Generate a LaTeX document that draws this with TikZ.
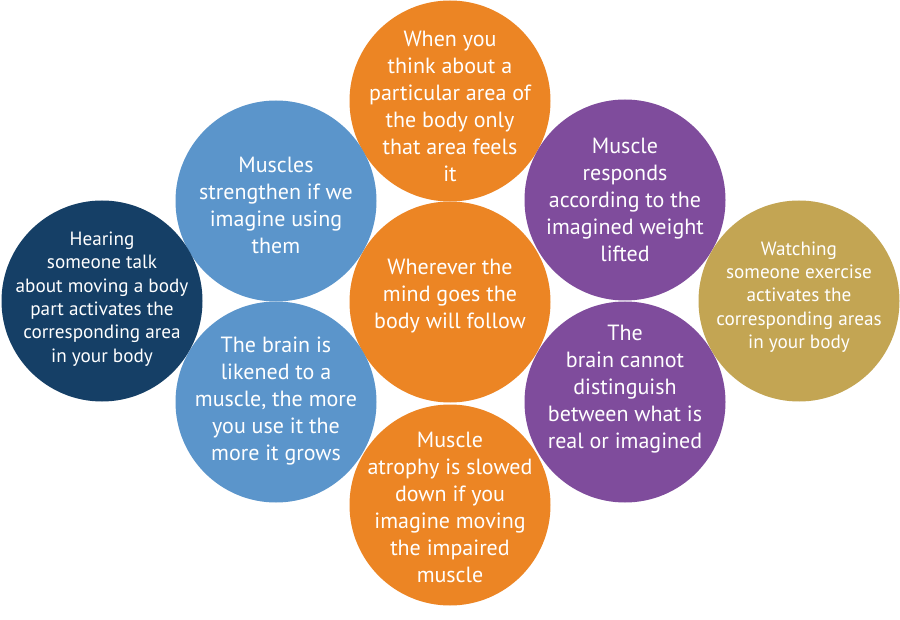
\documentclass[tikz,border=0pt]{standalone}
\usepackage{fontspec}
\setmainfont{PT Sans}
\definecolor{corange}{HTML}{EC8524}
\definecolor{cblue}{HTML}{5B95CB}
\definecolor{cpurple}{HTML}{7F4C9C}
\definecolor{cnavy}{HTML}{153F66}
\definecolor{cgold}{HTML}{C3A553}
\begin{document}
\begin{tikzpicture}[x=1pt,y=-1pt,
  bub/.style={circle, minimum size=201pt, inner sep=0pt, fill=#1},
  bigtxt/.style={text=white, align=center, font=\fontsize{22}{27}\selectfont},
  smalltxt/.style={text=white, align=center, font=\fontsize{19.2}{23.4}\selectfont}]
\useasboundingbox (0,0) rectangle (900,620);
\fill[white] (0,0) rectangle (900,620);
\node[bub=corange] (top) at (450,101) {};
\node[bub=corange] (mid) at (450,302) {};
\node[bub=corange] (bot) at (450,505) {};
\node[bub=cblue] (bu) at (276,201) {};
\node[bub=cblue] (bl) at (276,402) {};
\node[bub=cpurple] (pu) at (625,200) {};
\node[bub=cpurple] (pl) at (625,402) {};
\node[bub=cnavy] (nv) at (102,301) {};
\node[bub=cgold] (gd) at (799,301) {};

\node[bigtxt] (ttop) at (450,106) {When you\\think about a\\particular area of\\the body only\\that area feels\\it};
\node[bigtxt] (tmid) at (450,296) {Wherever the\\mind goes the\\body will follow};
\node[bigtxt] (tbot) at (450,507) {Muscle\\atrophy is slowed\\down if you\\imagine moving\\the impaired\\muscle};
\node[bigtxt] (tbu) at (276,205) {Muscles\\strengthen if we\\imagine using\\them};
\node[bigtxt] (tbl) at (276,401) {The brain is\\likened to a\\muscle, the more\\you use it the\\more it grows};
\node[bigtxt] (tpu) at (625,200) {Muscle\\responds\\according to the\\imagined weight\\lifted};
\node[bigtxt] (tpl) at (625,389) {The\\brain cannot\\distinguish\\between what is\\real or imagined};
\node[smalltxt] (tnv) at (102,299) {Hearing\\someone talk\\about moving a body\\part activates the\\corresponding area\\in your body};
\node[smalltxt] (tgd) at (799,297) {Watching\\someone exercise\\activates the\\corresponding areas\\in your body};
\end{tikzpicture}
\end{document}
